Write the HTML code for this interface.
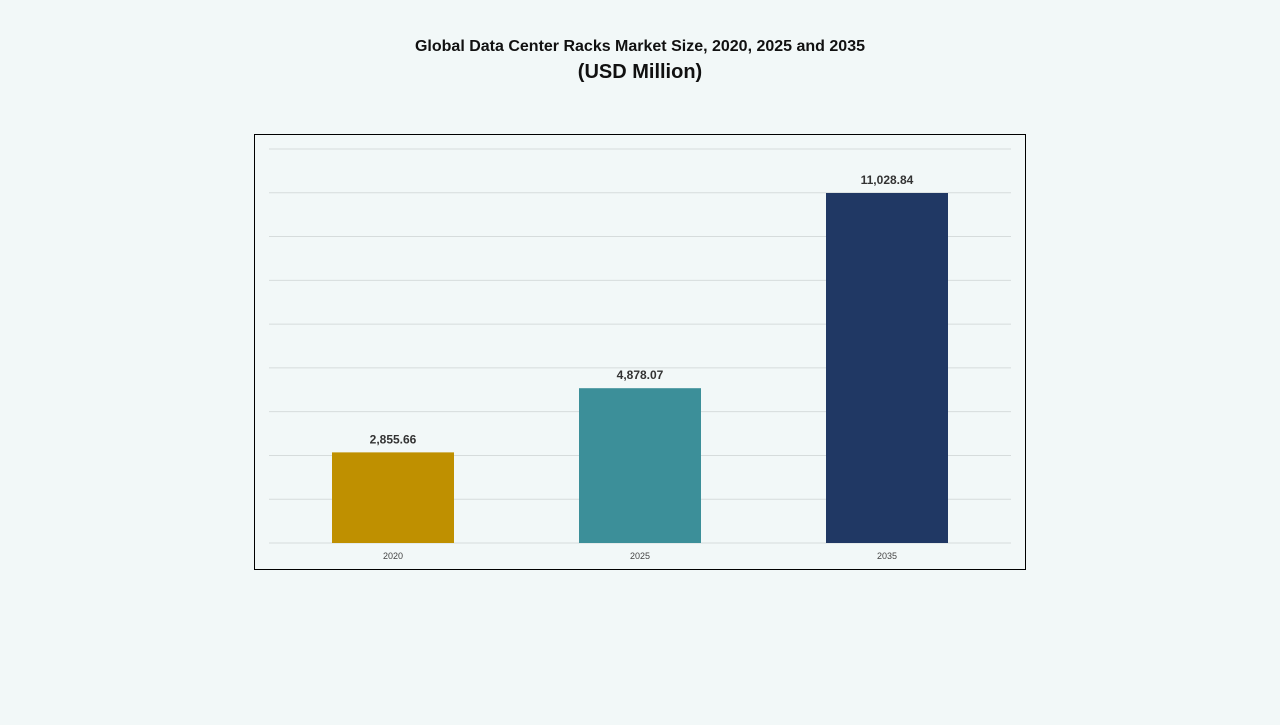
<!DOCTYPE html>
<html><head><meta charset="utf-8">
<style>
body{margin:0;width:1280px;height:720px;background:#f2f8f8;font-family:"Liberation Sans",sans-serif;overflow:hidden}
</style></head>
<body>
<svg width="1280" height="720">
<text x="640" y="51" text-anchor="middle" font-size="16" font-weight="bold" fill="#111">Global Data Center Racks Market Size, 2020, 2025 and 2035</text>
<text x="640" y="78" text-anchor="middle" font-size="20" font-weight="bold" fill="#111">(USD Million)</text>
<rect x="254.5" y="134.5" width="771" height="435" fill="none" stroke="#000" stroke-width="1"/>
<g id="grid"></g><g id="bars"></g>
</svg>
<script>
const categories=["2020","2025","2035"];
const values=[2855.66,4878.07,11028.84];
const labels=["2,855.66","4,878.07","11,028.84"];
const colors=["#bf9000","#3c8f99","#203864"];
const ns="http://www.w3.org/2000/svg";
const base=543, plotTop=149, yMax=11028.84*394/350;
function y(v){return base-(v/yMax)*(base-plotTop);}
function x(i){return 393+i*247;}
const g=document.getElementById('grid');
for(let k=0;k<=9;k++){
  const l=document.createElementNS(ns,'line');
  const yy=base-k*(base-plotTop)/9;
  l.setAttribute('x1',269);l.setAttribute('x2',1011);l.setAttribute('y1',yy);l.setAttribute('y2',yy);
  l.setAttribute('stroke','#d6dcdc');l.setAttribute('stroke-width',1);
  
  
  g.appendChild(l);
}
const b=document.getElementById('bars');
values.forEach((v,i)=>{
  const r=document.createElementNS(ns,'rect');
  r.setAttribute('x',x(i)-61);r.setAttribute('width',122);
  r.setAttribute('y',y(v));r.setAttribute('height',base-y(v));r.setAttribute('fill',colors[i]);
  
  
  b.appendChild(r);
  const t=document.createElementNS(ns,'text');
  t.setAttribute('x',x(i));t.setAttribute('y',y(v)-9);t.setAttribute('text-anchor','middle');
  t.setAttribute('font-size',12);t.setAttribute('font-weight','bold');t.setAttribute('fill','#333');
  t.textContent=labels[i];
  
  
  b.appendChild(t);
  const c=document.createElementNS(ns,'text');
  c.setAttribute('x',x(i));c.setAttribute('y',559);c.setAttribute('text-anchor','middle');
  c.setAttribute('font-size',9);c.setAttribute('fill','#444');
  c.textContent=categories[i];
  
  
  b.appendChild(c);
});
</script>
</body></html>
